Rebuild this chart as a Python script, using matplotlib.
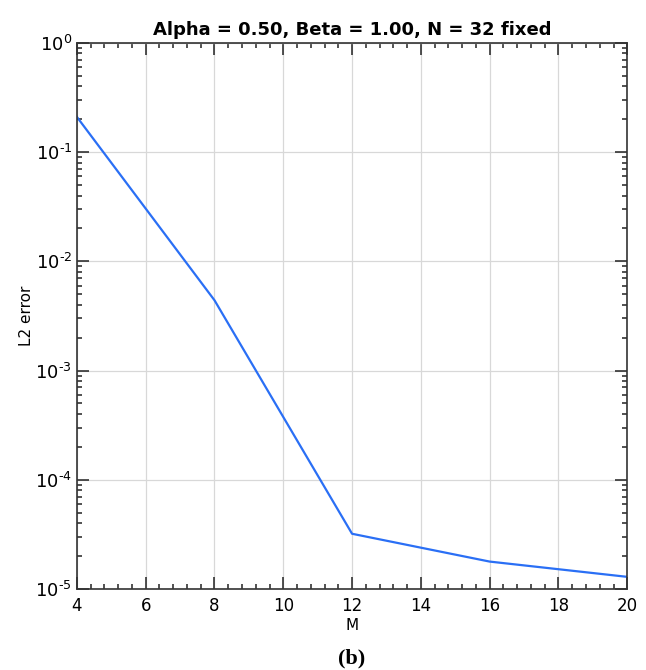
import numpy as np
import matplotlib
matplotlib.use("Agg")
import matplotlib.pyplot as plt
from matplotlib.ticker import LogLocator, MultipleLocator, FuncFormatter

# M values and L2 error
m_vals = [4, 8, 12, 16, 20]
l2_err = [0.21, 4.4e-3, 3.2e-5, 1.78e-5, 1.29e-5]

x_ticks = [4, 6, 8, 10, 12, 14, 16, 18, 20]

plt.rcParams['mathtext.fontset'] = 'dejavusans'
plt.rcParams['axes.unicode_minus'] = False


def pow10(v, pos):
    e = int(round(np.log10(v)))
    return r'$\mathregular{10^{\text{%d}}}$' % e


fig = plt.figure(figsize=(6.46, 6.70), dpi=100)
ax = fig.add_axes([0.119, 0.121, 0.852, 0.815])

ax.plot(m_vals, l2_err, color='#2a6ff5', lw=1.6)
ax.set_yscale('log')
ax.set_xlim(4, 20)
ax.set_ylim(1e-5, 1)

ax.set_xticks(x_ticks)
ax.xaxis.set_minor_locator(MultipleLocator(0.4))
ax.yaxis.set_major_locator(LogLocator(base=10, numticks=10))
ax.yaxis.set_minor_locator(LogLocator(base=10, subs=np.arange(2, 10), numticks=20))
ax.yaxis.set_major_formatter(FuncFormatter(pow10))

ax.tick_params(which='both', direction='in', top=True, right=True,
               labelsize=12, color='#222222')
ax.tick_params(axis='y', labelsize=13)
ax.tick_params(axis='x', pad=6)
ax.tick_params(which='major', length=8.5, width=1.1)
ax.tick_params(which='minor', length=3.6, width=1.1)
for s in ax.spines.values():
    s.set_color('#333333')
    s.set_linewidth(1.2)

ax.grid(True, which='major', color='#d8d8d8', lw=0.9)

ax.set_title('Alpha = 0.50, Beta = 1.00, N = 32 fixed', fontweight='bold',
             fontsize=13, pad=6)
ax.set_xlabel('M', fontsize=11, labelpad=2)
ax.set_ylabel('L2 error', fontsize=11, labelpad=1)

fig.text(0.545, 0.01, '(b)', family='Liberation Serif', fontweight='bold',
         fontsize=16, ha='center')

fig.savefig('out.png', dpi=100)
